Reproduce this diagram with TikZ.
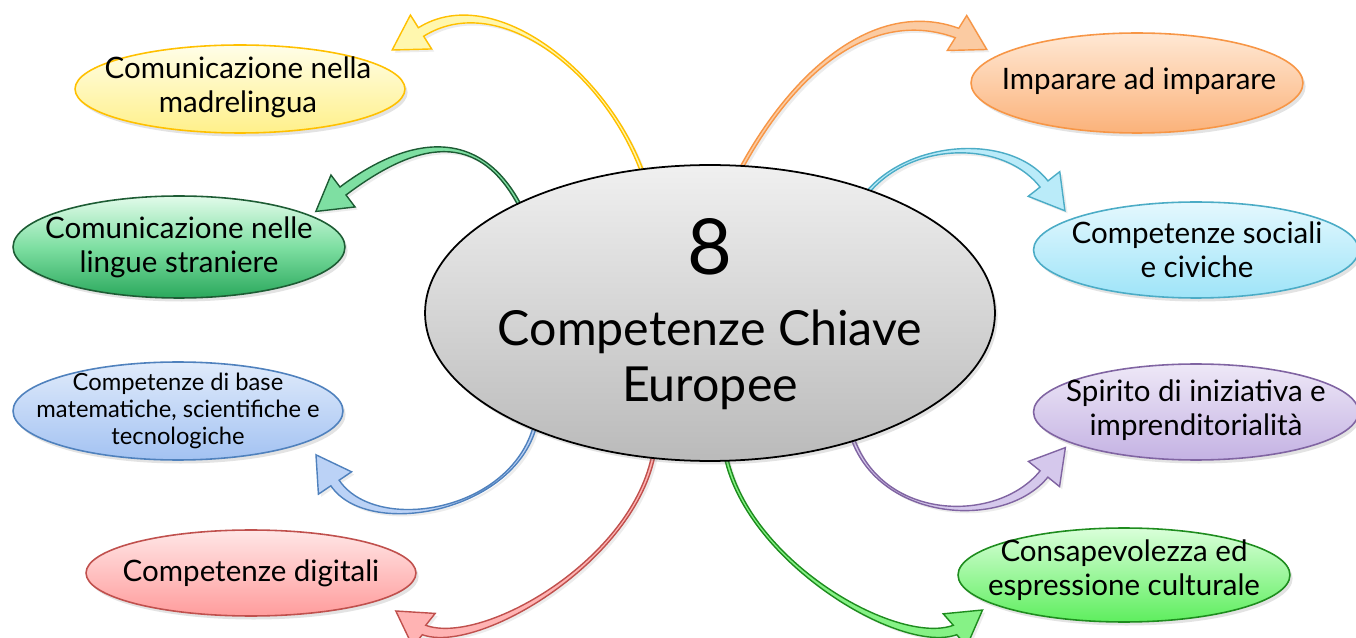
\documentclass[tikz,border=0pt]{standalone}
\usepackage{fontspec}
\setmainfont{Lato}
\usetikzlibrary{shapes.geometric,calc,shadows}
\definecolor{yB}{HTML}{FFC000}\definecolor{yT}{HTML}{FFFEE8}\definecolor{yD}{HTML}{FFF08A}\definecolor{yA}{HTML}{FFF7AE}
\definecolor{gB}{HTML}{1D5C34}\definecolor{gT}{HTML}{E2FBEA}\definecolor{gD}{HTML}{2AA85C}\definecolor{gA}{HTML}{7EDFA2}
\definecolor{bB}{HTML}{4F81BD}\definecolor{bT}{HTML}{E0EBFB}\definecolor{bD}{HTML}{A3C2F2}\definecolor{bA}{HTML}{BBD2F6}
\definecolor{rB}{HTML}{C0504D}\definecolor{rT}{HTML}{FFE6E6}\definecolor{rD}{HTML}{FF9C9C}\definecolor{rA}{HTML}{FFB3B3}
\definecolor{oB}{HTML}{F79646}\definecolor{oT}{HTML}{FFE8D4}\definecolor{oD}{HTML}{FBB27A}\definecolor{oA}{HTML}{FBCBA2}
\definecolor{cB}{HTML}{4BACC6}\definecolor{cT}{HTML}{E4F8FE}\definecolor{cD}{HTML}{9EE4F8}\definecolor{cA}{HTML}{BAEBF9}
\definecolor{pB}{HTML}{8064A2}\definecolor{pT}{HTML}{EEE8F7}\definecolor{pD}{HTML}{C4B2E3}\definecolor{pA}{HTML}{D5C8EC}
\definecolor{lB}{HTML}{1E8C1E}\definecolor{lT}{HTML}{DAFFDA}\definecolor{lD}{HTML}{5EEE5E}\definecolor{lA}{HTML}{86F286}
\newcommand\carrow[8]{%
  \path[#1] ($(#2)+(#3+90:1.6)$) .. controls ($(#2)+(#3+90:1.6)+(#3:#4)$) and ($(#5)+(#6+90:5)+(#6+180:#7)$) .. ($(#5)+(#6+90:5)$)
    -- ($(#5)+(#8+90:20)$) -- ($(#5)+(#8:34)$) -- ($(#5)+(#8-90:20)$) -- ($(#5)+(#6-90:5)$)
    .. controls ($(#5)+(#6-90:5)+(#6+180:#7)$) and ($(#2)+(#3-90:1.6)+(#3:#4)$) .. ($(#2)+(#3-90:1.6)$) -- cycle;}
\begin{document}
\begin{tikzpicture}[x=0.02cm,y=-0.02cm,
  bub/.style={ellipse,inner sep=0pt,line width=0.9pt,shading=axis,
     drop shadow={opacity=0.22,shadow xshift=1.5pt,shadow yshift=-2pt}},
  btxt/.style={align=center,inner sep=0pt,font=\fontsize{16.8}{19.4}\selectfont},
  arr/.style={line width=0.8pt,line join=miter,
     drop shadow={opacity=0.15,shadow xshift=1.5pt,shadow yshift=-1.5pt}}]
\useasboundingbox (0,0) rectangle (1356,638);
\fill[white] (0,0) rectangle (1356,638);
% outer bubbles
\node[bub,draw=yB,top color=yT,bottom color=yD,minimum width=6.6cm,minimum height=1.76cm] (madre) at (240,89) {};
\node[btxt] (madre-t) at (238,87) {Comunicazione nella\\madrelingua};
\node[bub,draw=gB,top color=gT,bottom color=gD,middle color=gA,minimum width=6.64cm,minimum height=2.04cm] (stran) at (179,247) {};
\node[btxt] (stran-t) at (stran) {Comunicazione nelle\\lingue straniere};
\node[bub,draw=bB,top color=bT,bottom color=bD,minimum width=6.6cm,minimum height=1.96cm] (matsci) at (178,411) {};
\node[btxt,font=\fontsize{13.5}{15.6}\selectfont] (matsci-t) at (matsci) {Competenze di base\\matematiche, scientifiche e\\tecnologiche};
\node[bub,draw=rB,top color=rT,bottom color=rD,minimum width=6.6cm,minimum height=1.72cm] (digit) at (251,573) {};
\node[btxt] (digit-t) at (digit) {Competenze digitali};
\node[bub,draw=oB,top color=oT,bottom color=oD,minimum width=6.64cm,minimum height=2.0cm] (impar) at (1137,83) {};
\node[btxt] (impar-t) at (1139,81) {Imparare ad imparare};
\node[bub,draw=cB,top color=cT,bottom color=cD,minimum width=6.5cm,minimum height=1.92cm] (social) at (1196,250) {};
\node[btxt] (social-t) at (1197,250) {Competenze sociali\\e civiche};
\node[bub,draw=pB,top color=pT,bottom color=pD,minimum width=6.5cm,minimum height=1.92cm] (spirit) at (1196,412) {};
\node[btxt] (spirit-t) at (1196,410) {Spirito di iniziativa e\\imprenditorialità};
\node[bub,draw=lB,top color=lT,bottom color=lD,minimum width=6.64cm,minimum height=1.88cm] (cult) at (1124,575) {};
\node[btxt] (cult-t) at (1124,570) {Consapevolezza ed\\espressione culturale};
% arrow anchor coordinates
\coordinate (sY) at (645,180); \coordinate (hY) at (421,32);
\coordinate (sG) at (524,214); \coordinate (hG) at (343,191);
\coordinate (sBl) at (535,426); \coordinate (hBl) at (335,483);
\coordinate (sR) at (654,452); \coordinate (hR) at (424,630);
\coordinate (sO) at (735,180); \coordinate (hO) at (957,33);
\coordinate (sC) at (858,206); \coordinate (hC) at (1044,184);
\coordinate (sP) at (850,430); \coordinate (hP) at (1044,474);
\coordinate (sL) at (725,452); \coordinate (hL) at (955,630);
\carrow{arr,draw=yB,fill=yA}{sY}{-108}{110}{hY}{148}{90}{148}
\carrow{arr,draw=gB,fill=gA}{sG}{-115}{100}{hG}{143}{85}{143}
\carrow{arr,draw=bB,fill=bA}{sBl}{105}{90}{hBl}{-124}{65}{-124}
\carrow{arr,draw=rB,fill=rA}{sR}{100}{110}{hR}{-160}{60}{-146}
\carrow{arr,draw=oB,fill=oA}{sO}{-63}{120}{hO}{20}{90}{29}
\carrow{arr,draw=cB,fill=cA}{sC}{-60}{75}{hC}{52}{65}{52}
\carrow{arr,draw=pB,fill=pA}{sP}{75}{95}{hP}{-51}{70}{-51}
\carrow{arr,draw=lB,fill=lA}{sL}{80}{110}{hL}{-20}{60}{-36}
% centre
\node[bub,draw=black,line width=1pt,top color=black!6,bottom color=black!27,minimum width=11.4cm,minimum height=5.92cm] (centre) at (710,313) {};
\node[align=center,inner sep=0pt,font=\fontsize{27.5}{31.5}\selectfont] (centre-t) at (710,314) {{\fontsize{44}{40}\selectfont 8}\\[9pt]Competenze Chiave\\Europee};
\end{tikzpicture}
\end{document}
